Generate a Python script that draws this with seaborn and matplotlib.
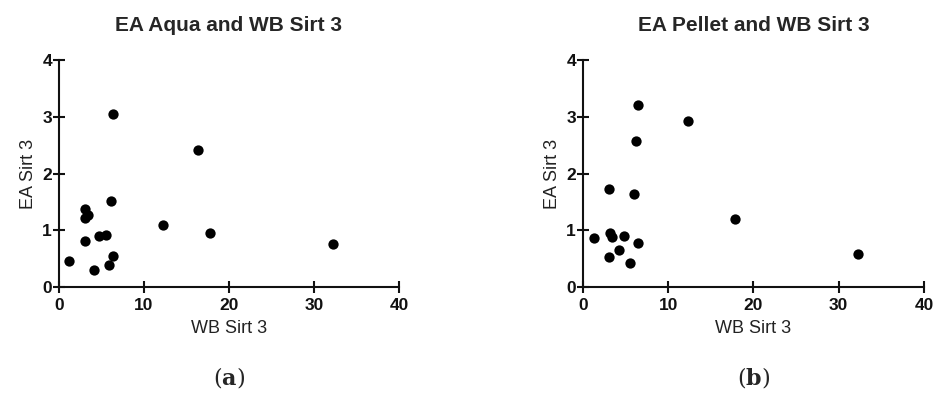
import matplotlib
matplotlib.use("Agg")
import matplotlib.pyplot as plt
import seaborn as sns
import pandas as pd

# panel (a): EA Aqua vs WB Sirt 3
aqua_wb = [1.2, 4.15, 3.05, 3.05, 3.1, 3.4, 4.75, 5.5, 5.9, 6.4, 6.15, 6.4, 12.25, 16.35, 17.75, 32.25]
aqua_ea = [0.45, 0.30, 0.81, 1.21, 1.37, 1.27, 0.89, 0.92, 0.38, 0.55, 1.51, 3.05, 1.09, 2.42, 0.95, 0.76]

# panel (b): EA Pellet vs WB Sirt 3
pellet_wb = [1.25, 3.1, 3.15, 3.45, 4.2, 4.85, 5.55, 6.5, 3.1, 6.0, 6.2, 6.45, 12.3, 17.8, 32.3]
pellet_ea = [0.86, 0.52, 0.95, 0.88, 0.66, 0.89, 0.43, 0.78, 1.73, 1.63, 2.58, 3.20, 2.92, 1.20, 0.58]

titles = ["EA Aqua and WB Sirt 3", "EA Pellet and WB Sirt 3"]
panel_tags = ["a", "b"]

sns.set_style("white")
plt.rcParams['font.family'] = ['Liberation Sans', 'DejaVu Sans']
plt.rcParams['mathtext.fontset'] = 'dejavuserif'

fig = plt.figure(figsize=(9.37, 3.94), dpi=100)
ax1 = fig.add_axes([59 / 937, 1 - 287 / 394, 340 / 937, 227 / 394])
ax2 = fig.add_axes([583 / 937, 1 - 287 / 394, 341 / 937, 227 / 394])

datasets = [pd.DataFrame({"WB Sirt 3": aqua_wb, "EA Sirt 3": aqua_ea}),
            pd.DataFrame({"WB Sirt 3": pellet_wb, "EA Sirt 3": pellet_ea})]

for ax, df, title, tag in zip([ax1, ax2], datasets, titles, panel_tags):
    sns.scatterplot(ax=ax, data=df, x="WB Sirt 3", y="EA Sirt 3",
                    color="black", s=55, edgecolor="black", linewidth=0,
                    clip_on=False)
    ax.set_xlim(0, 40)
    ax.set_ylim(0, 4)
    ax.set_xticks([0, 10, 20, 30, 40])
    ax.set_yticks([0, 1, 2, 3, 4])
    sns.despine(ax=ax)
    for side in ["left", "bottom"]:
        ax.spines[side].set_linewidth(1.5)
        ax.spines[side].set_color("#111111")
    ax.tick_params(bottom=True, left=True, direction="inout", length=8,
                   width=1.5, color="#111111", labelsize=12.5)
    ax.tick_params(axis="x", pad=4)
    ax.tick_params(axis="y", pad=1)
    for lab in ax.get_xticklabels() + ax.get_yticklabels():
        lab.set_fontweight("bold")
        lab.set_color("#111111")
    ax.set_xlabel("WB Sirt 3", fontsize=13, color="#222222", labelpad=5)
    ax.set_ylabel("EA Sirt 3", fontsize=13, color="#222222", labelpad=4)
    ax.set_title(title, fontsize=15, fontweight="bold", pad=21)
    ax.text(0.5, -0.40, r"$(\mathbf{" + tag + "})$", transform=ax.transAxes,
            ha="center", va="center", fontsize=16)

fig.savefig("out.png", dpi=100)
